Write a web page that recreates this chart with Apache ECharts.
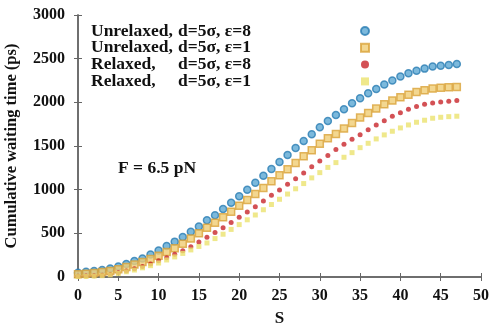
<!DOCTYPE html>
<html>
<head>
    <meta charset="utf-8">
    <title>Cumulative waiting time</title>
    <script src="https://cdn.jsdelivr.net/npm/echarts@6/dist/echarts.min.js"></script>
</head>
<body style="margin:0">
    <div id="main" style="width: 493px;height:324px;"></div>
    <script type="text/javascript">
        // S values 0..47
        var sValues = [];
        for (var i = 0; i < 48; i++) sValues.push(i);

        var unrelaxed8 = [50, 60, 69, 80, 97, 120, 149, 182, 212, 258, 303, 355, 405, 458, 519, 578,
            650, 708, 779, 851, 924, 1000, 1080, 1160, 1237, 1317, 1397, 1478, 1558, 1634, 1715, 1787,
            1856, 1921, 1990, 2047, 2104, 2153, 2203, 2249, 2295, 2333, 2363, 2386, 2410, 2420, 2428, 2440];
        var unrelaxed1 = [32, 38, 46, 56, 70, 90, 115, 143, 172, 207, 244, 285, 330, 380, 440, 500,
            565, 622, 684, 748, 817, 882, 951, 1020, 1096, 1165, 1234, 1306, 1382, 1451, 1527, 1590,
            1636, 1699, 1764, 1825, 1879, 1928, 1978, 2020, 2058, 2088, 2119, 2139, 2157, 2168, 2173, 2176];
        var relaxed8 = [10, 11, 15, 20, 30, 48, 70, 95, 120, 150, 185, 220, 260, 300, 345, 400,
            455, 510, 565, 625, 685, 745, 805, 870, 935, 997, 1062, 1125, 1190, 1262, 1328, 1392,
            1460, 1519, 1577, 1630, 1687, 1741, 1790, 1841, 1882, 1921, 1951, 1978, 1993, 2005, 2012, 2020];
        var relaxed1 = [5, 6, 10, 15, 25, 40, 60, 80, 105, 130, 160, 195, 230, 270, 310, 350,
            390, 440, 490, 545, 600, 655, 710, 770, 830, 890, 950, 1010, 1070, 1135, 1195, 1255,
            1310, 1371, 1424, 1481, 1531, 1581, 1627, 1669, 1707, 1741, 1772, 1795, 1818, 1829, 1836, 1841];

        var seriesNames = ['Unrelaxed, d=5σ, ε=8', 'Unrelaxed, d=5σ, ε=1', 'Relaxed, d=5σ, ε=8', 'Relaxed, d=5σ, ε=1'];
        var legendParts = [['Unrelaxed,', 'd=5σ, ε=8'], ['Unrelaxed,', 'd=5σ, ε=1'], ['Relaxed,', 'd=5σ, ε=8'], ['Relaxed,', 'd=5σ, ε=1']];

        function pairs(vals) {
            return vals.map(function (v, i) { return [sValues[i], v]; });
        }

        var font = '"Liberation Serif", "DejaVu Serif", serif';
        var frameColor = '#666';
        var textBase = { fontFamily: font, fontWeight: 'bold', fontSize: 17.5, color: '#111', align: 'left', lineHeight: 14 };

        var dom = document.getElementById('main');
        var myChart = echarts.init(dom);

        var option = {
            animation: false,
            backgroundColor: '#fff',
            grid: { left: 78, right: 12, top: 15, bottom: 47, outerBoundsMode: 'none', containLabel: false },
            legend: {
                orient: 'vertical',
                left: 86,
                top: 17,
                align: 'right',
                itemGap: -1.2,
                itemWidth: 8,
                itemHeight: 8,
                selectedMode: false,
                data: seriesNames,
                formatter: function (name) {
                    var p = legendParts[seriesNames.indexOf(name)];
                    return '{a|' + p[0] + '}{b|' + p[1] + '}';
                },
                textStyle: {
                    fontFamily: font,
                    fontWeight: 'bold',
                    fontSize: 17.5,
                    lineHeight: 14,
                    color: '#111',
                    rich: {
                        a: Object.assign({ width: 87 }, textBase),
                        b: Object.assign({ width: 178 }, textBase)
                    }
                }
            },
            graphic: [{
                type: 'text',
                left: 118,
                top: 159,
                style: { text: 'F = 6.5 pN', font: 'bold 17.5px ' + font, fill: '#111' }
            }],
            xAxis: [{
                type: 'value', min: 0, max: 50, interval: 5,
                name: 'S', nameLocation: 'middle', nameGap: 33,
                nameTextStyle: { fontFamily: font, fontWeight: 'bold', fontSize: 17, color: '#111' },
                axisLine: { lineStyle: { color: frameColor, width: 1.5 } },
                axisTick: { inside: true, length: 4, lineStyle: { color: frameColor } },
                axisLabel: { fontFamily: font, fontWeight: 'bold', fontSize: 16, color: '#111', margin: 11 },
                splitLine: { show: false }
            }, {
                type: 'value', min: 0, max: 50, interval: 5, position: 'top',
                axisLine: { lineStyle: { color: frameColor, width: 1.5 } },
                axisTick: { inside: true, length: 4, lineStyle: { color: frameColor } },
                axisLabel: { show: false },
                splitLine: { show: false }
            }],
            yAxis: [{
                type: 'value', min: 0, max: 3000, interval: 500,
                name: 'Cumulative waiting time (ps)', nameLocation: 'middle', nameGap: 58,
                nameTextStyle: { fontFamily: font, fontWeight: 'bold', fontSize: 16.5, color: '#111' },
                axisLine: { show: true, lineStyle: { color: frameColor, width: 1.5 } },
                axisTick: { show: true, inside: true, length: 4, lineStyle: { color: frameColor } },
                axisLabel: {
                    fontFamily: font, fontWeight: 'bold', fontSize: 16, color: '#111', margin: 13,
                    formatter: function (v) { return String(v); }
                },
                splitLine: { show: false }
            }, {
                type: 'value', min: 0, max: 3000, interval: 500, position: 'right',
                axisLine: { show: true, lineStyle: { color: frameColor, width: 1.5 } },
                axisTick: { show: true, inside: true, length: 4, lineStyle: { color: frameColor } },
                axisLabel: { show: false },
                splitLine: { show: false }
            }],
            series: [{
                name: seriesNames[0], type: 'scatter', symbol: 'circle', symbolSize: 7,
                itemStyle: { color: '#5ba7d3', borderColor: '#2b7db3', borderWidth: 1.5 },
                data: pairs(unrelaxed8)
            }, {
                name: seriesNames[1], type: 'scatter', symbol: 'rect', symbolSize: 7,
                itemStyle: { color: '#f0cd74', borderColor: '#d9a23a', borderWidth: 1.5 },
                data: pairs(unrelaxed1)
            }, {
                name: seriesNames[2], type: 'scatter', symbol: 'circle', symbolSize: 5,
                itemStyle: { color: '#c8262b' },
                data: pairs(relaxed8)
            }, {
                name: seriesNames[3], type: 'scatter', symbol: 'rect', symbolSize: 5,
                itemStyle: { color: '#ebe26e' },
                data: pairs(relaxed1)
            }]
        };

        myChart.setOption(option);
    </script>
</body>
</html>
